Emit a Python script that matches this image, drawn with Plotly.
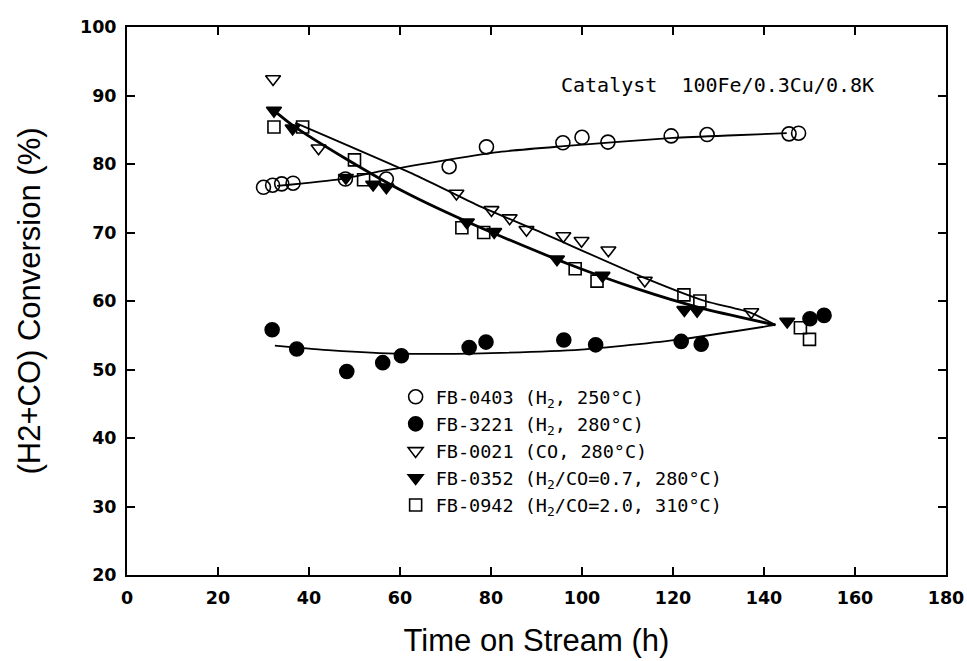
import plotly.graph_objects as go

# ---------------- data ----------------
fb0403_x = [30.0, 32.0, 34.0, 36.5, 48.0, 57.0, 70.8, 79.0, 95.8, 100.0, 105.7, 119.6, 127.5, 145.5, 147.6]
fb0403_y = [76.6, 76.9, 77.1, 77.2, 77.8, 77.8, 79.6, 82.5, 83.1, 83.9, 83.2, 84.1, 84.3, 84.4, 84.5]

fb3221_x = [31.9, 37.3, 48.3, 56.2, 60.3, 75.2, 78.9, 96.0, 103.0, 121.8, 126.2, 150.1, 153.2]
fb3221_y = [55.8, 53.0, 49.7, 51.0, 52.0, 53.2, 54.0, 54.3, 53.6, 54.1, 53.7, 57.4, 57.9]

fb0021_x = [32.1, 42.1, 72.4, 80.1, 84.1, 87.8, 95.9, 99.9, 105.8, 113.8, 137.2]
fb0021_y = [92.4, 82.3, 75.7, 73.3, 72.1, 70.4, 69.5, 68.8, 67.4, 63.0, 58.4]

fb0352_x = [32.3, 36.4, 48.1, 54.1, 57.0, 74.7, 80.7, 94.5, 104.5, 122.5, 125.3, 145.1]
fb0352_y = [87.8, 85.2, 78.0, 77.0, 76.6, 71.5, 70.1, 66.1, 63.7, 58.7, 58.6, 57.0]

fb0942_x = [32.3, 38.6, 50.0, 52.0, 73.6, 78.4, 98.5, 103.3, 122.4, 125.9, 148.0, 150.0]
fb0942_y = [85.4, 85.4, 80.6, 77.7, 70.7, 70.0, 64.7, 62.9, 60.9, 60.0, 56.1, 54.4]

# hand-drawn trend curves
fit0403_x = [33, 47, 57, 81, 96, 120, 133.5, 145]
fit0403_y = [76.8, 77.8, 79.1, 81.7, 82.6, 83.8, 84.2, 84.5]

fit0021_x = [37, 64, 77, 90, 114, 127, 137, 142.5]
fit0021_y = [86.0, 78.2, 74.0, 70.3, 63.3, 60.0, 58.3, 56.5]

fit0352_x = [32.3, 36.5, 48, 61, 77, 97, 112, 126, 142.5]
fit0352_y = [87.8, 85.6, 80.8, 75.9, 70.9, 65.4, 61.8, 59.0, 56.5]

fit3221_x = [32.5, 45, 60.4, 80, 99.8, 121.7, 142.5]
fit3221_y = [53.5, 52.8, 52.3, 52.4, 52.9, 54.4, 56.5]

names = [
    "FB-0403 (H<sub>2</sub>, 250°C)",
    "FB-3221 (H<sub>2</sub>, 280°C)",
    "FB-0021 (CO, 280°C)",
    "FB-0352 (H<sub>2</sub>/CO=0.7, 280°C)",
    "FB-0942 (H<sub>2</sub>/CO=2.0, 310°C)",
]

x_ticks = [0, 20, 40, 60, 80, 100, 120, 140, 160, 180]
y_ticks = [20, 30, 40, 50, 60, 70, 80, 90, 100]

fig = go.Figure()

# trend lines
for fx, fy, w in [(fit0403_x, fit0403_y, 1.8), (fit0021_x, fit0021_y, 1.8),
                  (fit0352_x, fit0352_y, 2.8), (fit3221_x, fit3221_y, 1.8)]:
    fig.add_trace(go.Scatter(x=fx, y=fy, mode="lines", showlegend=False,
                             line=dict(color="black", width=w, shape="spline", smoothing=0.6),
                             hoverinfo="skip"))

series = [
    (fb0403_x, fb0403_y, "circle-open", 14),
    (fb3221_x, fb3221_y, "circle", 14),
    (fb0021_x, fb0021_y, "triangle-down-open", 13),
    (fb0352_x, fb0352_y, "triangle-down", 13),
    (fb0942_x, fb0942_y, "square-open", 12),
]
for (sx, sy, sym, sz), nm in zip(series, names):
    fig.add_trace(go.Scatter(x=sx, y=sy, mode="markers", name=nm,
                             marker=dict(symbol=sym, size=sz, color="black",
                                         line=dict(color="black", width=1.6))))

fig.add_annotation(x=0.527, y=0.895, xref="paper", yref="paper", xanchor="left", yanchor="middle",
                   text="Catalyst  100Fe/0.3Cu/0.8K", showarrow=False,
                   font=dict(family="DejaVu Sans Mono", size=20, color="black"))

tickfont = dict(family="DejaVu Sans", size=17.5, color="black", weight="bold")
titlefont = dict(family="Liberation Sans", size=31, color="black")
fig.update_layout(
    width=967, height=661,
    margin=dict(l=127, r=21, t=27, b=86, autoexpand=False),
    paper_bgcolor="white", plot_bgcolor="white",
    showlegend=True,
    legend=dict(x=0.328, y=0.359, xanchor="left", yanchor="top",
                bgcolor="rgba(0,0,0,0)", borderwidth=0,
                font=dict(family="DejaVu Sans Mono", size=18.5, color="black"),
                tracegroupgap=0, itemwidth=30),
    xaxis=dict(range=[0, 180], tickvals=x_ticks, ticktext=[str(v) for v in x_ticks],
               showgrid=False, zeroline=False, showline=True, linecolor="black", linewidth=2,
               mirror="ticks", ticks="inside", ticklen=8, tickwidth=1.5, tickcolor="black",
               tickfont=tickfont, ticklabelstandoff=6, ticklabeloverflow="allow",
               automargin=False,
               title=dict(text="Time on Stream (h)", standoff=22, font=titlefont)),
    yaxis=dict(range=[20, 100], tickvals=y_ticks, ticktext=[str(v) for v in y_ticks],
               showgrid=False, zeroline=False, showline=True, linecolor="black", linewidth=2,
               mirror="ticks", ticks="inside", ticklen=8, tickwidth=1.5, tickcolor="black",
               tickfont=tickfont, ticklabelstandoff=5, automargin=False,
               title=dict(text="(H2+CO) Conversion (%)", standoff=30, font=titlefont)),
)

fig.write_html("out.html")
